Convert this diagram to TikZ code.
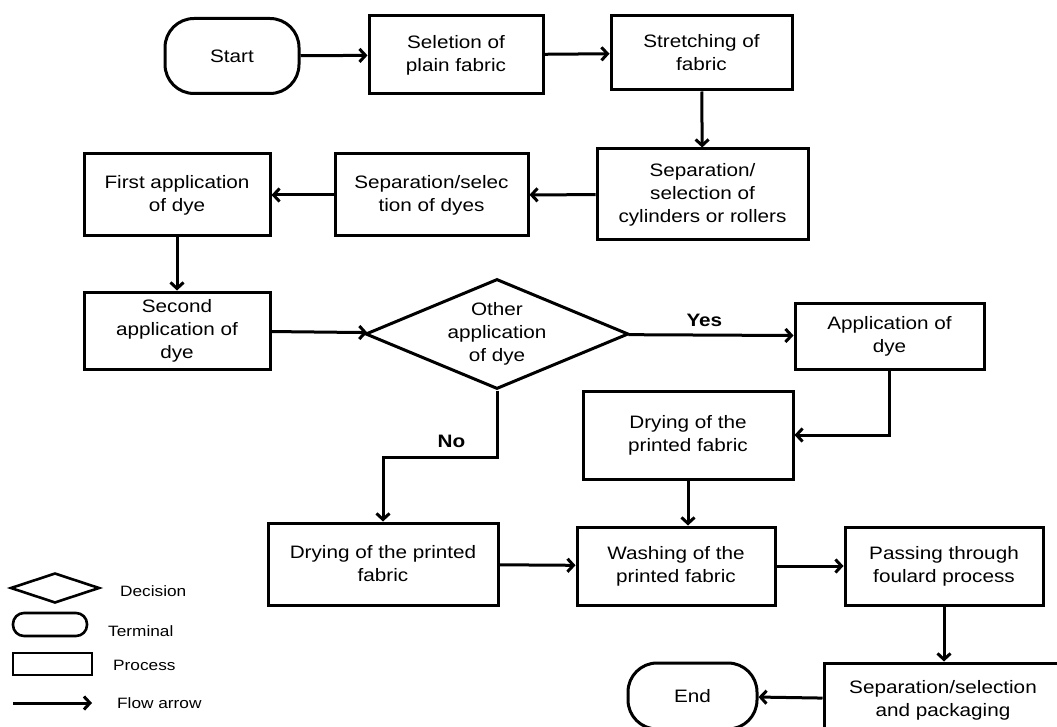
\documentclass[tikz,border=0pt]{standalone}
\usepackage{fontspec}
\usepackage{tikz}
\usetikzlibrary{shapes.geometric,arrows.meta,calc}
\newfontfamily\flowfont{Liberation Sans}[FakeStretch=1.15]
\tikzset{process node/.style={rectangle,draw,line width=3pt,align=center,inner sep=2pt,
		font=\flowfont\fontsize{18}{23}\selectfont},
	terminal node/.style={process node,rounded corners=29pt},
	decision node/.style={process node,diamond,aspect=2.4,inner sep=0pt},
	legend text/.style={anchor=west,inner sep=0pt,font=\flowfont\fontsize{15}{18}\selectfont},
	flow/.style={line width=3pt,-{Straight Barb[length=6pt,width=13pt]}},
}

\begin{document}
\begin{tikzpicture}[x=1pt,y=-1pt]
		\useasboundingbox (0,0) rectangle (1057,727);
		\clip (0,0) rectangle (1057,727);
		% main flow
		\node[terminal node,minimum width=134pt,minimum height=75pt] (start) at (232,56) {Start};
		\node[process node,minimum width=174pt,minimum height=78pt] (select) at (456,55) {Seletion of\\plain fabric};
		\node[process node,minimum width=181pt,minimum height=74pt] (stretch) at (701.5,53) {Stretching of\\fabric};
		\node[process node,minimum width=211pt,minimum height=91pt] (sepcyl) at (702.5,194.5) {Separation/\\selection of\\cylinders or rollers};
		\node[process node,minimum width=193pt,minimum height=82pt] (sepdye) at (431.5,195) {Separation/selec\\tion of dyes};
		\node[process node,minimum width=186pt,minimum height=82pt] (first) at (177,195) {First application\\of dye};
		\node[process node,minimum width=186pt,minimum height=77pt] (second) at (177,330.5) {Second\\application of\\dye};
		\node[decision node,minimum width=263pt,minimum height=110pt] (other) at (497,334) {Other\\application\\of dye};
		\node[process node,minimum width=189pt,minimum height=66pt] (appdye) at (889.5,336) {Application of\\dye};
		\node[process node,minimum width=210pt,minimum height=88pt] (dryright) at (688,435) {Drying of the\\printed fabric};
		\node[process node,minimum width=230pt,minimum height=82pt] (dryleft) at (383,564) {Drying of the printed\\fabric};
		\node[process node,minimum width=198pt,minimum height=78pt] (wash) at (676,566) {Washing of the\\printed fabric};
		\node[process node,minimum width=198pt,minimum height=78pt] (pass) at (944,566) {Passing through\\foulard process};
		\node[process node,minimum width=238pt,minimum height=74pt] (pack) at (943,700) {Separation/selection\\and packaging};
		\node[terminal node,minimum width=129pt,minimum height=66pt] (end) at (692.5,696) {End};
		
		\path[flow]
		(start) edge (select)
		(select) edge (stretch)
		(stretch) edge (sepcyl)
		(sepcyl) edge (sepdye)
		(sepdye) edge (first)
		(first) edge (second)
		(second) edge (other)
		(other) edge node[above=4pt,pos=0.46,font=\flowfont\bfseries\fontsize{18}{20}\selectfont] {Yes} (appdye)
		(dryleft) edge (wash)
		(wash) edge (pass)
		(pass) edge (pass.south |- pack.north)
		(pack) edge (end);
		\draw[flow] (appdye.south) |- (dryright.east);
		\draw[flow] (dryright.south) -- (dryright.south |- wash.north);
		\coordinate (nobend) at (497,457);
		\draw[flow] (other.south) -- (nobend)
			-| node[pos=0.2,above=4pt,font=\flowfont\bfseries\fontsize{18}{20}\selectfont] {No} (dryleft.north);
		
		% legend
		\node[diamond,draw,line width=2.6pt,minimum width=89pt,minimum height=30pt,inner sep=0pt] (keydec) at (55,588) {};
		\node[legend text] (keydectxt) at (120,591) {Decision};
		\node[draw,line width=2.6pt,rounded corners=11pt,minimum width=74pt,minimum height=23pt] (keyterm) at (50,624.5) {};
		\node[legend text] (keytermtxt) at (108,631) {Terminal};
		\node[draw,line width=2.6pt,minimum width=79pt,minimum height=22pt] (keyproc) at (52.5,664) {};
		\node[legend text] (keyproctxt) at (113,665) {Process};
		\coordinate (keyfrom) at (13,703);
		\coordinate (keyto) at (92,703);
		\draw[flow] (keyfrom) -- (keyto);
		\node[legend text] (keyflowtxt) at (117,703) {Flow arrow};
	\end{tikzpicture}
\end{document}
